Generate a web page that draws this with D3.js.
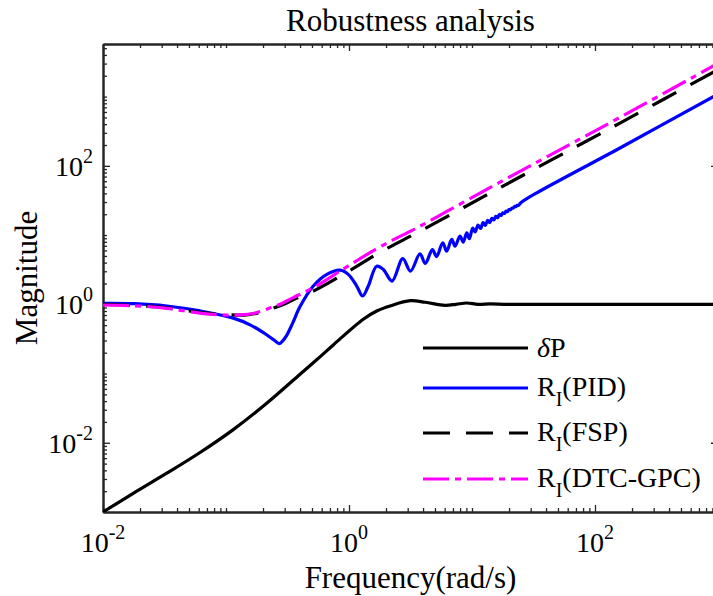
<!DOCTYPE html>
<html>
<head>
<meta charset="utf-8">
<script src="https://cdn.jsdelivr.net/npm/d3@7"></script>
<style>
body { margin: 0; background: #fff; }
text { font-family: "Liberation Serif", "Times New Roman", serif; fill: #000; }
</style>
</head>
<body>
<div id="chart-area"></div>
<script>
// values (frequency in rad/s, magnitude)
let freqDP = [0.01, 0.0176, 0.033, 0.0615, 0.1146, 0.2143, 0.40, 0.546, 0.745, 1.306, 1.68, 2.153, 3.16, 4.17, 6.03, 7.41, 9.06, 11.2, 14.1, 20, 1000];
let magDP  = [0.001, 0.00186, 0.00363, 0.00724, 0.0155, 0.0372, 0.0977, 0.158, 0.259, 0.608, 0.80, 0.946, 1.127, 1.072, 0.968, 1.0, 1.045, 1.0, 1.012, 1.0, 1.0];

let freqPID = [0.01, 0.0178, 0.0331, 0.0617, 0.1148, 0.1585, 0.2138, 0.2512, 0.2698, 0.2884, 0.3097, 0.3467, 0.398,
  0.5129, 0.6607, 0.8453, 0.9863, 1.156, 1.291, 1.435, 1.679, 1.901, 2.239, 2.735, 3.162, 3.776, 4.169, 4.764, 5.152,
  5.78, 6.22, 6.84, 7.28, 7.98, 8.49, 9.06, 9.51, 10.14, 10.6, 11.2, 11.75, 12.3, 12.85, 13.4, 13.95, 14.5, 15.05,
  15.6, 16.15, 16.7, 17.25, 17.8, 18.35, 18.9, 19.45, 20.0, 20.55, 21.1, 21.65, 22.2, 22.75, 23.3, 23.85, 25.1, 33.6, 159.6, 1000];
let magPID  = [1.033, 1.023, 0.946, 0.802, 0.631, 0.501, 0.363, 0.295, 0.271, 0.295, 0.349, 0.525, 0.912,
  1.837, 2.704, 3.119, 2.704, 1.837, 1.318, 1.837, 3.548, 3.192, 2.168, 4.571, 3.020, 5.370, 3.890, 6.166, 4.898,
  7.74, 5.86, 8.65, 6.92, 9.64, 7.91, 10.79, 8.85, 12.59, 11.09, 13.96, 12.45, 15.14, 13.80, 16.29, 15.14, 17.42, 16.52,
  18.66, 17.78, 19.86, 19.14, 21.0, 20.5, 22.2, 21.8, 23.4, 23.2, 24.5, 24.5, 25.9, 25.7, 26.9, 26.8, 29.5, 40.7, 181, 1089];

let freqFSP = [0.01, 0.01995, 0.0331, 0.0631, 0.1, 0.1413, 0.1778, 0.2291, 0.2951, 0.3548, 0.5129, 1.0, 1.778, 3.776, 13.18, 45.81, 159.6, 1000];
let magFSP  = [1.0, 0.955, 0.891, 0.759, 0.708, 0.700, 0.741, 0.851, 1.0, 1.175, 1.549, 3.020, 5.623, 11.38, 38.02, 125.9, 415, 2455];

let freqGPC = [0.01, 0.01995, 0.0331, 0.0631, 0.1, 0.1413, 0.1778, 0.2291, 0.2754, 0.3548, 0.5129, 0.957, 1.786, 3.776, 13.18, 45.81, 159.6, 1000];
let magGPC  = [0.977, 0.944, 0.871, 0.741, 0.700, 0.708, 0.759, 0.891, 1.0, 1.259, 1.738, 3.467, 6.761, 13.43, 45.71, 151.4, 501.2, 3020];

let seriesNames = ["δP", "PID", "FSP", "DTC-GPC"];
let xMajor = [1e-2, 1e0, 1e2];
let yMajor = [1e-2, 1e0, 1e2];

let width = 713, height = 596;
let plotL = 103, plotR = 718, plotT = 44, plotB = 512;

let svg = d3.select("#chart-area").append("svg")
    .attr("width", width)
    .attr("height", height);

svg.append("rect").attr("width", width).attr("height", height).attr("fill", "#fff");

let x = d3.scaleLog().domain([1e-2, 1e3]).range([plotL, plotR]);
let y = d3.scaleLog().domain([1e-3, Math.pow(10, 3.76)]).range([plotB, plotT]);

// minor ticks: every k*10^n that is not a labelled major
let xMinor = [], yMinor = [];
for (let n = -2; n <= 2; n++) for (let k = 1; k <= 9; k++) {
    let v = k * Math.pow(10, n);
    if (!xMajor.some(m => Math.abs(m - v) / v < 1e-9)) xMinor.push(v);
}
for (let n = -3; n <= 3; n++) for (let k = 1; k <= 9; k++) {
    let v = k * Math.pow(10, n);
    if (v > y.domain()[1]) continue;
    if (!yMajor.some(m => Math.abs(m - v) / v < 1e-9)) yMinor.push(v);
}

function drawAxis(axisFn, scale, values, size, transform) {
    let g = svg.append("g")
        .attr("transform", transform)
        .call(axisFn(scale).tickValues(values).tickSize(-size).tickSizeOuter(0).tickFormat(""));
    g.selectAll(".tick line").attr("stroke", "#262626").attr("stroke-width", 1.3);
    g.select(".domain").attr("stroke", "#262626").attr("stroke-width", 2);
    return g;
}

[[xMajor, 7], [xMinor, 4]].forEach(([vals, s]) => {
    drawAxis(d3.axisBottom, x, vals, s, `translate(0,${plotB})`);
    drawAxis(d3.axisTop, x, vals, s, `translate(0,${plotT})`);
});
[[yMajor, 7], [yMinor, 4]].forEach(([vals, s]) => {
    drawAxis(d3.axisLeft, y, vals, s, `translate(${plotL},0)`);
    drawAxis(d3.axisRight, y, vals, s, `translate(${plotR},0)`);
});

function expLabel(v) { return String(Math.round(Math.log10(v))); }

// tick labels 10^n
xMajor.forEach(v => {
    let t = svg.append("text")
        .attr("x", x(v)).attr("y", 552)
        .attr("text-anchor", "middle")
        .attr("font-size", 28);
    t.append("tspan").text("10");
    t.append("tspan").attr("dy", -13).attr("font-size", 20).text(expLabel(v));
});
yMajor.forEach(v => {
    let t = svg.append("text")
        .attr("x", 93).attr("y", y(v) + 10)
        .attr("text-anchor", "end")
        .attr("font-size", 28);
    t.append("tspan").text("10");
    t.append("tspan").attr("dy", -13).attr("font-size", 20).text(expLabel(v));
});

// curves
svg.append("clipPath").attr("id", "plot-clip")
    .append("rect").attr("x", plotL).attr("y", plotT).attr("width", plotR - plotL).attr("height", plotB - plotT);

let line = d3.line()
    .x(d => x(d[0]))
    .y(d => y(d[1]))
    .curve(d3.curveCatmullRom.alpha(0.5));

let styles = [
    {data: d3.zip(freqDP, magDP), color: "#000000", dash: null},
    {data: d3.zip(freqPID, magPID), color: "#0000ff", dash: null},
    {data: d3.zip(freqFSP, magFSP), color: "#000000", dash: "27,16"},
    {data: d3.zip(freqGPC, magGPC), color: "#ff00ff", dash: "26,6,6,6"}
];

let plot = svg.append("g").attr("clip-path", "url(#plot-clip)");
styles.forEach(s => {
    plot.append("path")
        .attr("d", line(s.data))
        .attr("fill", "none")
        .attr("stroke", s.color)
        .attr("stroke-width", 3.2)
        .attr("stroke-dasharray", s.dash);
});

// legend
let legendY = [348, 388, 433, 479];
styles.forEach((s, i) => {
    svg.append("line")
        .attr("x1", 423).attr("x2", 528)
        .attr("y1", legendY[i]).attr("y2", legendY[i])
        .attr("stroke", s.color).attr("stroke-width", 3.2)
        .attr("stroke-dasharray", s.dash);
    let t = svg.append("text")
        .attr("x", 537).attr("y", legendY[i] + (i === 0 ? 9 : 8))
        .attr("font-size", 28);
    if (i === 0) {
        t.append("tspan").attr("font-style", "italic").text("δ");
        t.append("tspan").text("P");
    } else {
        t.append("tspan").text("R");
        t.append("tspan").attr("dy", 10).attr("font-size", 20).text("I");
        t.append("tspan").attr("dy", -10).text("(" + seriesNames[i] + ")");
    }
});

// titles
svg.append("text")
    .attr("x", (plotL + plotR) / 2).attr("y", 31)
    .attr("text-anchor", "middle").attr("font-size", 31)
    .text("Robustness analysis");
svg.append("text")
    .attr("x", (plotL + plotR) / 2).attr("y", 588)
    .attr("text-anchor", "middle").attr("font-size", 31)
    .text("Frequency(rad/s)");
svg.append("text")
    .attr("transform", `translate(37,${(plotT + plotB) / 2}) rotate(-90)`)
    .attr("text-anchor", "middle").attr("font-size", 31)
    .text("Magnitude");
</script>
</body>
</html>
